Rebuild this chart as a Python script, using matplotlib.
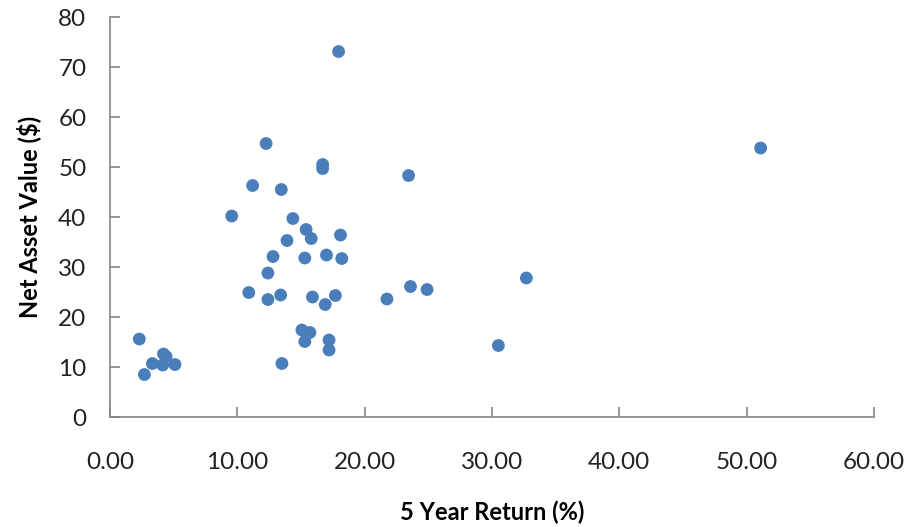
import matplotlib.pyplot as plt

# 5 year return (%) and net asset value ($) per fund
five_year_return = [17.95, 12.26, 16.7, 16.7, 11.2, 13.45, 9.56, 14.36, 15.4, 15.8,
                    13.9, 18.1, 12.8, 15.3, 17.0, 18.2, 12.4, 10.9, 12.4, 13.4,
                    15.9, 16.9, 17.7, 15.07, 15.7, 15.3, 17.2, 17.2, 13.5,
                    2.3, 3.33, 4.2, 4.4, 4.14, 5.1, 2.7,
                    23.45, 23.6, 24.9, 21.75, 32.7, 30.5, 51.1]
net_asset_value = [73.1, 54.7, 50.5, 49.7, 46.3, 45.5, 40.2, 39.7, 37.5, 35.7,
                   35.3, 36.4, 32.1, 31.8, 32.4, 31.7, 28.8, 24.9, 23.5, 24.4,
                   24.0, 22.5, 24.3, 17.4, 16.9, 15.1, 15.4, 13.4, 10.7,
                   15.6, 10.7, 12.6, 12.1, 10.4, 10.5, 8.5,
                   48.3, 26.1, 25.5, 23.6, 27.8, 14.3, 53.8]

x_ticks = [0, 10, 20, 30, 40, 50, 60]
y_ticks = [0, 10, 20, 30, 40, 50, 60, 70, 80]

plt.rcParams['font.family'] = ['Lato', 'DejaVu Sans']

fig = plt.figure(figsize=(9.07, 5.27), dpi=100)
ax = fig.add_axes([0.1213, 0.2087, 0.8423, 0.759])

ax.scatter(five_year_return, net_asset_value, s=85, color='#4a7ebb', edgecolors='none')

ax.set_xlim(0, 60)
ax.set_ylim(0, 80)
ax.set_xticks(x_ticks)
ax.set_xticklabels(['%.2f' % t for t in x_ticks])
ax.set_yticks(y_ticks)

for side in ['top', 'right']:
    ax.spines[side].set_visible(False)
for side in ['left', 'bottom']:
    ax.spines[side].set_color('#868686')
    ax.spines[side].set_linewidth(1.2)

ax.tick_params(axis='both', direction='in', length=7, width=1.2, color='#868686',
               labelsize=17.5, labelcolor='#222222')
ax.tick_params(axis='x', pad=25)
ax.tick_params(axis='y', pad=17)

ax.set_xlabel('5 Year Return (%)', fontsize=17, fontweight='bold', labelpad=20)
ax.set_ylabel('Net Asset Value ($)', fontsize=17, fontweight='bold', labelpad=12)

fig.savefig('out.png', dpi=100, facecolor='white')
